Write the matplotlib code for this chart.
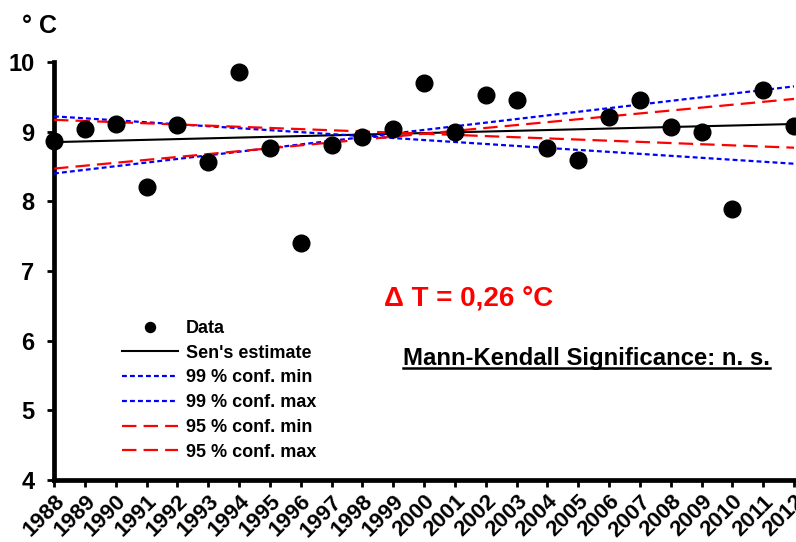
import matplotlib
matplotlib.use("Agg")
import matplotlib.pyplot as plt
from matplotlib.lines import Line2D
import numpy as np

plt.rcParams['font.family'] = ['Liberation Sans', 'DejaVu Sans']
plt.rcParams['font.weight'] = 'bold'

years = list(range(1988, 2013))
temps = [8.87, 9.04, 9.11, 8.21, 9.10, 8.56, 9.86, 8.77, 7.40, 8.81, 8.92, 9.04,
         9.70, 9.00, 9.53, 9.46, 8.77, 8.59, 9.21, 9.45, 9.07, 9.00, 7.89, 9.60, 9.08]

# trend lines: value at first year, value at last year
sen = [8.85, 9.11]
conf99_min = [9.22, 8.54]
conf99_max = [8.40, 9.65]
conf95_min = [9.17, 8.77]
conf95_max = [8.47, 9.47]

delta_t = "\u0394 T = 0,26 \u00b0C"
mk_text = "Mann-Kendall Significance: n. s."

fig = plt.figure(figsize=(7.96, 5.42), dpi=100)
ax = fig.add_axes([54 / 796, 1 - 480 / 542, 740 / 796, 418 / 542])

ends = [years[0], years[-1]]
ax.plot(ends, sen, color='black', lw=1.5, label="Sen's estimate", zorder=3)
ax.plot(ends, conf99_min, color='#0000ff', lw=1.6, dashes=(2.2, 1.4), label='99 % conf. min', zorder=3)
ax.plot(ends, conf99_max, color='#0000ff', lw=1.6, dashes=(2.2, 1.4), label='99 % conf. max', zorder=3)
ax.plot(ends, conf95_min, color='#ff0000', lw=1.6, dashes=(6.5, 3.2), label='95 % conf. min', zorder=3)
ax.plot(ends, conf95_max, color='#ff0000', lw=1.6, dashes=(6.5, 3.2), label='95 % conf. max', zorder=3)
ax.plot(years, temps, 'o', color='black', ms=12, label='Data', zorder=5, clip_on=False)

ax.set_xlim(1988, 2012)
ax.set_ylim(4, 10)
ax.set_xticks(years)
ax.set_xticklabels([str(y) for y in years], rotation=45, ha='right',
                   rotation_mode='anchor', fontsize=16, fontweight='bold')
ax.set_yticks(range(4, 11))
ax.tick_params(axis='y', labelsize=17, width=2, length=5, pad=9)
ax.tick_params(axis='x', width=2, length=5, pad=3)
for t in ax.get_yticklabels():
    t.set_fontweight('bold')

for s in ['top', 'right']:
    ax.spines[s].set_visible(False)
for s in ['left', 'bottom']:
    ax.spines[s].set_linewidth(3.4)

handles, labels = ax.get_legend_handles_labels()
order = [5, 0, 1, 2, 3, 4]
leg = ax.legend([handles[i] for i in order], [labels[i] for i in order],
                loc='upper left', bbox_to_anchor=(0.092, 0.383), frameon=False,
                borderaxespad=0, borderpad=0, handlelength=3.1, handletextpad=0.45,
                labelspacing=0.43, markerscale=0.6, prop={'weight': 'bold', 'size': 13})

fig.text(22 / 796, 1 - 26 / 542, "\u00b0 C", fontsize=18, fontweight='bold', va='center', ha='left')

ax.text(0.56, 0.435, delta_t, transform=ax.transAxes, color='#ff0000', fontsize=20,
        fontweight='bold', ha='center', va='center')

mk = fig.text(403 / 796, 1 - 358 / 542, mk_text, fontsize=17.2, fontweight='bold', ha='left', va='center')
fig.canvas.draw()
bb = mk.get_window_extent().transformed(fig.transFigure.inverted())
fig.add_artist(Line2D([bb.x0, bb.x1], [bb.y0 + 0.003, bb.y0 + 0.003], color='black', lw=1.8,
                      transform=fig.transFigure))

fig.savefig('out.png', dpi=100)
